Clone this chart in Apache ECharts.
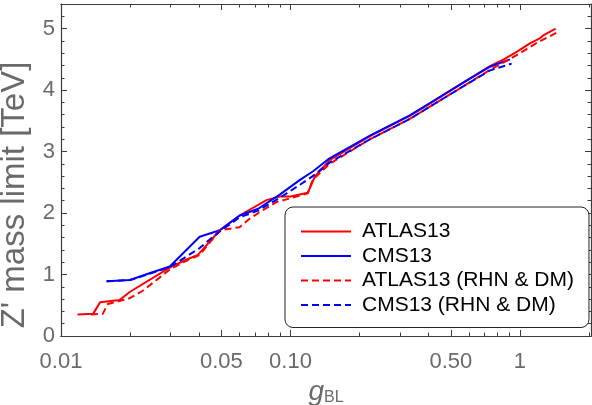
<!DOCTYPE html>
<html>
<head>
<meta charset="utf-8">
<script src="https://cdn.jsdelivr.net/npm/echarts@6/dist/echarts.min.js"></script>
<style>
  html, body { margin: 0; padding: 0; background: #fff; }
  #chart { width: 592px; height: 405px; }
</style>
</head>
<body>
<div id="chart"></div>
<script>
// axis ranges
const xMin = 0.01;
const xMax = 2.04;
const yMin = 0;
const yMax = 5.4;

// tick marks on the log g_BL axis
const xMajorTicks = [0.01, 0.05, 0.1, 0.5, 1];
const xMajorLabels = ['0.01', '0.05', '0.10', '0.50', '1'];
const xMinorTicks = [0.02, 0.03, 0.04, 0.06, 0.07, 0.08, 0.09, 0.2, 0.3, 0.4, 0.6, 0.7, 0.8, 0.9, 2];

const seriesNames = ['ATLAS13', 'CMS13', 'ATLAS13 (RHN & DM)', 'CMS13 (RHN & DM)'];

// ATLAS13
const atlasX = [0.0118, 0.0138, 0.0148, 0.018, 0.02, 0.03, 0.0351, 0.0395, 0.0492, 0.06, 0.0786, 0.09, 0.1, 0.119, 0.1276, 0.148, 0.222, 0.331, 0.405, 0.566, 0.74, 0.85, 0.968, 1.105, 1.22, 1.264, 1.43];
const atlasY = [0.35, 0.36, 0.55, 0.585, 0.72, 1.12, 1.24, 1.32, 1.72, 1.96, 2.21, 2.27, 2.27, 2.33, 2.59, 2.86, 3.25, 3.58, 3.78, 4.12, 4.39, 4.5, 4.62, 4.76, 4.84, 4.89, 5.0];

// CMS13
const cmsX = [0.0158, 0.02, 0.0243, 0.0298, 0.0402, 0.0492, 0.0601, 0.0723, 0.0898, 0.11, 0.1255, 0.148, 0.222, 0.331, 0.405, 0.566, 0.74, 0.905];
const cmsY = [0.89, 0.91, 1.02, 1.13, 1.615, 1.72, 1.96, 2.07, 2.3, 2.54, 2.68, 2.89, 3.26, 3.59, 3.79, 4.12, 4.38, 4.5];

// ATLAS13 (RHN & DM)
const atlasRhnX = [0.0135, 0.0152, 0.016, 0.0186, 0.0196, 0.0228, 0.03, 0.035, 0.0402, 0.0492, 0.06, 0.0665, 0.0738, 0.0871, 0.1, 0.119, 0.125, 0.148, 0.222, 0.331, 0.405, 0.566, 0.74, 0.85, 1.0, 1.2, 1.494];
const atlasRhnY = [0.35, 0.36, 0.52, 0.585, 0.6, 0.74, 1.09, 1.22, 1.32, 1.72, 1.77, 1.91, 2.02, 2.18, 2.24, 2.32, 2.54, 2.8, 3.2, 3.53, 3.73, 4.06, 4.33, 4.45, 4.6, 4.78, 4.96];

// CMS13 (RHN & DM)
const cmsRhnX = [0.0158, 0.02, 0.0298, 0.0402, 0.0445, 0.0492, 0.06, 0.0723, 0.09, 0.11, 0.125, 0.148, 0.222, 0.331, 0.405, 0.566, 0.74, 0.92];
const cmsRhnY = [0.89, 0.91, 1.12, 1.43, 1.57, 1.7, 1.93, 2.04, 2.25, 2.46, 2.6, 2.82, 3.2, 3.53, 3.73, 4.06, 4.32, 4.43];

const font = 'Liberation Sans, Arial, sans-serif';
const frameColor = '#3c3c3c';
const labelColor = '#6a6a6a';

function pairs(xs, ys) {
  return xs.map((x, i) => [x, ys[i]]);
}

// the data sits on a real log axis; the frame ticks are drawn by
// value axes that run over log10 of the same range
const logMin = Math.log10(xMin);
const logMax = Math.log10(xMax);

function frameAxis(position, ticks, len, withLabels) {
  return {
    type: 'value',
    position: position,
    min: logMin,
    max: logMax,
    axisLine: { show: true, onZero: false, lineStyle: { color: frameColor, width: 1.2 } },
    axisTick: {
      show: true,
      inside: true,
      length: len,
      customValues: ticks.map((t) => Math.log10(t)),
      lineStyle: { color: frameColor, width: 1 },
    },
    axisLabel: withLabels
      ? {
          show: true,
          margin: 15,
          customValues: ticks.map((t) => Math.log10(t)),
          fontFamily: font,
          fontSize: 22,
          color: labelColor,
          formatter: (v) => {
            const i = xMajorTicks.findIndex((t) => Math.abs(Math.log10(t) - v) < 1e-6);
            return i >= 0 ? xMajorLabels[i] : '';
          },
        }
      : { show: false },
    splitLine: { show: false },
  };
}

function yFrameAxis(position, withLabels) {
  return {
    type: 'value',
    position: position,
    min: yMin,
    max: yMax,
    interval: 1,
    axisLine: { show: true, onZero: false, lineStyle: { color: frameColor, width: 1.2 } },
    axisTick: { show: true, inside: true, length: 6, lineStyle: { color: frameColor } },
    minorTick: { show: true, splitNumber: 5, length: 3.5, lineStyle: { color: frameColor } },
    axisLabel: withLabels
      ? { margin: 6, showMaxLabel: false, fontFamily: font, fontSize: 22, color: labelColor }
      : { show: false },
    splitLine: { show: false },
  };
}

const chart = echarts.init(document.getElementById('chart'), null, { renderer: 'canvas' });

const xAxes = [
  // data axis
  { type: 'log', logBase: 10, min: xMin, max: xMax, show: false },
  Object.assign(frameAxis('bottom', xMajorTicks, 6, true), {
    name: '{g|g}{s|BL}',
    nameLocation: 'middle',
    nameGap: 26,
    nameTextStyle: {
      rich: {
        g: { fontFamily: font, fontSize: 28, fontStyle: 'italic', color: labelColor },
        s: { fontFamily: font, fontSize: 16, color: labelColor, verticalAlign: 'bottom' },
      },
    },
  }),
  frameAxis('bottom', xMinorTicks, 3.5, false),
  frameAxis('top', xMajorTicks, 6, false),
  frameAxis('top', xMinorTicks, 3.5, false),
];

const yAxes = [
  Object.assign(yFrameAxis('left', true), {
    name: "Z' mass limit [TeV]",
    nameLocation: 'middle',
    nameRotate: 90,
    nameGap: 21,
    // title sits a little below the middle of the frame
    nameTextStyle: { fontFamily: font, fontSize: 33, color: labelColor, padding: [0, 50, 0, 0] },
  }),
  yFrameAxis('right', false),
];

function lineSeries(name, xs, ys, color, dashed) {
  return {
    name: name,
    type: 'line',
    xAxisIndex: 0,
    yAxisIndex: 0,
    data: pairs(xs, ys),
    symbol: 'none',
    smooth: false,
    lineStyle: { color: color, width: 2, type: dashed ? [7, 4] : 'solid' },
    itemStyle: { color: color },
    z: 3,
  };
}

chart.setOption({
  animation: false,
  backgroundColor: '#fff',
  grid: { left: 61, right: 1, top: 4, bottom: 69, containLabel: false, outerBoundsMode: 'none' },
  xAxis: xAxes,
  yAxis: yAxes,
  legend: {
    data: seriesNames,
    orient: 'vertical',
    left: 285,
    top: 207,
    padding: [14, 15, 12, 15],
    backgroundColor: '#fff',
    borderColor: '#222',
    borderWidth: 1,
    borderRadius: 8,
    itemWidth: 50,
    itemHeight: 14,
    itemGap: 3.5,
    itemStyle: { opacity: 0 },
    textStyle: { fontFamily: font, fontSize: 21, color: '#000', lineHeight: 20, padding: [0, 0, 0, 6] },
  },
  series: [
    lineSeries(seriesNames[0], atlasX, atlasY, '#ff0000', false),
    lineSeries(seriesNames[1], cmsX, cmsY, '#0000ff', false),
    lineSeries(seriesNames[2], atlasRhnX, atlasRhnY, '#ff0000', true),
    lineSeries(seriesNames[3], cmsRhnX, cmsRhnY, '#0000ff', true),
  ],
});
</script>
</body>
</html>
